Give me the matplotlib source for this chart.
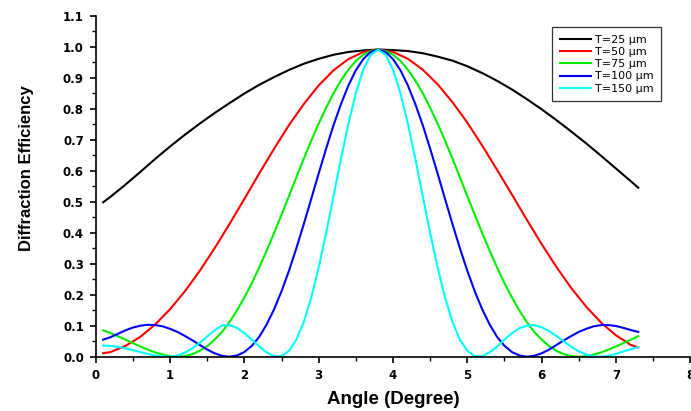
import matplotlib
matplotlib.use("Agg")
import matplotlib.pyplot as plt
from matplotlib.ticker import MultipleLocator, FormatStrFormatter

# ---- Data ----
# angles (degree) used for the two broad curves
ANGLE_WIDE = [0.1, 0.2, 0.4, 0.6, 0.8, 1.0, 1.2, 1.4, 1.6, 1.8, 2.0, 2.2, 2.4,
              2.6, 2.8, 3.0, 3.2, 3.4, 3.6, 3.8, 4.0, 4.2, 4.4, 4.6, 4.8, 5.0,
              5.2, 5.4, 5.6, 5.8, 6.0, 6.2, 6.4, 6.6, 6.8, 7.0, 7.2, 7.3]
# angles (degree) used for the narrow curves
ANGLE = [0.1, 0.2, 0.3, 0.4, 0.5, 0.6, 0.7, 0.8, 0.9, 1.0, 1.1, 1.2, 1.3,
         1.4, 1.5, 1.6, 1.7, 1.8, 1.9, 2.0, 2.1, 2.2, 2.3, 2.4, 2.5, 2.6,
         2.7, 2.8, 2.9, 3.0, 3.1, 3.2, 3.3, 3.4, 3.5, 3.6, 3.7, 3.8, 3.9,
         4.0, 4.1, 4.2, 4.3, 4.4, 4.5, 4.6, 4.7, 4.8, 4.9, 5.0, 5.1, 5.2,
         5.3, 5.4, 5.5, 5.6, 5.7, 5.8, 5.9, 6.0, 6.1, 6.2, 6.3, 6.4, 6.5,
         6.6, 6.7, 6.8, 6.9, 7.0, 7.1, 7.2, 7.3]

EFF_T25 = [0.498, 0.516, 0.555, 0.596, 0.638, 0.678, 0.716, 0.752, 0.786,
           0.818, 0.849, 0.877, 0.902, 0.925, 0.945, 0.961, 0.974, 0.983,
           0.988, 0.991, 0.989, 0.986, 0.979, 0.968, 0.955, 0.937, 0.915,
           0.890, 0.862, 0.831, 0.798, 0.763, 0.726, 0.688, 0.648, 0.607,
           0.566, 0.545]
EFF_T50 = [0.011, 0.015, 0.035, 0.064, 0.104, 0.153, 0.211, 0.277, 0.350,
           0.428, 0.509, 0.591, 0.671, 0.747, 0.815, 0.875, 0.924, 0.960,
           0.983, 0.990, 0.983, 0.961, 0.926, 0.879, 0.821, 0.755, 0.681,
           0.603, 0.523, 0.442, 0.363, 0.289, 0.221, 0.161, 0.110, 0.069,
           0.038, 0.030]
EFF_T75 = [0.085, 0.076, 0.066, 0.055, 0.044, 0.033, 0.023, 0.014, 0.007,
           0.002, 0.000, 0.002, 0.008, 0.019, 0.034, 0.055, 0.080, 0.112,
           0.149, 0.191, 0.237, 0.288, 0.342, 0.399, 0.458, 0.518, 0.579,
           0.639, 0.697, 0.752, 0.803, 0.850, 0.891, 0.926, 0.954, 0.974,
           0.986, 0.990,
           0.986, 0.974, 0.954, 0.926, 0.891, 0.850, 0.803, 0.752, 0.697,
           0.639, 0.579, 0.518, 0.458, 0.399, 0.342, 0.288, 0.237, 0.191,
           0.149, 0.112, 0.080, 0.055, 0.034, 0.019, 0.008, 0.002, 0.000,
           0.002, 0.007, 0.014, 0.023, 0.033, 0.044, 0.055, 0.066]
EFF_T100 = [0.055, 0.063, 0.074, 0.085, 0.094, 0.100, 0.103, 0.102, 0.098,
            0.090, 0.080, 0.067, 0.053, 0.038, 0.023, 0.011, 0.003, 0.000,
            0.004, 0.015, 0.035, 0.064, 0.104, 0.153, 0.211, 0.277, 0.350,
            0.428, 0.509, 0.591, 0.671, 0.747, 0.815, 0.875, 0.924, 0.960,
            0.983, 0.990,
            0.983, 0.960, 0.924, 0.875, 0.815, 0.747, 0.671, 0.591, 0.509,
            0.428, 0.350, 0.277, 0.211, 0.153, 0.104, 0.064, 0.035, 0.015,
            0.004, 0.000, 0.003, 0.011, 0.023, 0.038, 0.053, 0.067, 0.080,
            0.090, 0.098, 0.102, 0.102, 0.099, 0.093, 0.086, 0.080]
EFF_T150 = [0.036, 0.035, 0.032, 0.027, 0.021, 0.015, 0.009, 0.004, 0.001,
            0.000, 0.004, 0.013, 0.027, 0.045, 0.065, 0.085, 0.101, 0.102,
            0.093, 0.076, 0.055, 0.033, 0.014, 0.002, 0.002, 0.019, 0.055,
            0.112, 0.191, 0.288, 0.399, 0.518, 0.639, 0.752, 0.850, 0.926,
            0.974, 0.990,
            0.974, 0.926, 0.850, 0.752, 0.639, 0.518, 0.399, 0.288, 0.191,
            0.112, 0.055, 0.019, 0.002, 0.002, 0.014, 0.033, 0.055, 0.076,
            0.092, 0.100, 0.102, 0.095, 0.083, 0.067, 0.049, 0.032, 0.017,
            0.007, 0.001, 0.000, 0.003, 0.009, 0.017, 0.024, 0.031]

SERIES = [
    ("T=25 μm", ANGLE_WIDE, EFF_T25, "#000000"),
    ("T=50 μm", ANGLE_WIDE, EFF_T50, "#ff0000"),
    ("T=75 μm", ANGLE, EFF_T75, "#00ee00"),
    ("T=100 μm", ANGLE, EFF_T100, "#0000ff"),
    ("T=150 μm", ANGLE, EFF_T150, "#00ffff"),
]

fig = plt.figure(figsize=(6.91, 4.11), dpi=100)
ax = fig.add_axes([0.1385, 0.1321, 0.8605, 0.8297])

for label, xs, ys, col in SERIES:
    ax.plot(xs, ys, color=col, lw=1.5, label=label)

ax.set_xlim(0, 8)
ax.set_ylim(0, 1.1)
ax.xaxis.set_major_locator(MultipleLocator(1))
ax.xaxis.set_minor_locator(MultipleLocator(0.5))
ax.yaxis.set_major_locator(MultipleLocator(0.1))
ax.yaxis.set_minor_locator(MultipleLocator(0.05))
ax.yaxis.set_major_formatter(FormatStrFormatter("%.1f"))

for side in ("top", "right"):
    ax.spines[side].set_visible(False)
for side in ("left", "bottom"):
    ax.spines[side].set_linewidth(1.2)

ax.tick_params(which="major", direction="out", length=4.5, width=1.2, pad=4)
ax.tick_params(which="minor", direction="out", length=2.8, width=1.0)
for t in ax.get_xticklabels() + ax.get_yticklabels():
    t.set_fontfamily("DejaVu Sans")
    t.set_fontweight("bold")
    t.set_fontsize(8.5)

ax.set_xlabel("Angle (Degree)", fontfamily="Liberation Sans",
              fontweight="bold", fontsize=13.5)
ax.set_ylabel("Diffraction Efficiency", fontfamily="Liberation Sans",
              fontweight="bold", fontsize=12)
ax.xaxis.set_label_coords(0.5, -0.102)
ax.yaxis.set_label_coords(-0.104, 0.552)

leg = ax.legend(loc="upper right", bbox_to_anchor=(661 / 691, 1 - 27 / 411),
                bbox_transform=fig.transFigure, borderaxespad=0,
                fancybox=False, framealpha=1, edgecolor="#333333",
                prop={"family": "DejaVu Sans", "size": 8},
                borderpad=0.7, labelspacing=0.2, handlelength=2.8,
                handletextpad=0.35)
leg.get_frame().set_linewidth(0.9)

fig.savefig("out.png", dpi=100)
